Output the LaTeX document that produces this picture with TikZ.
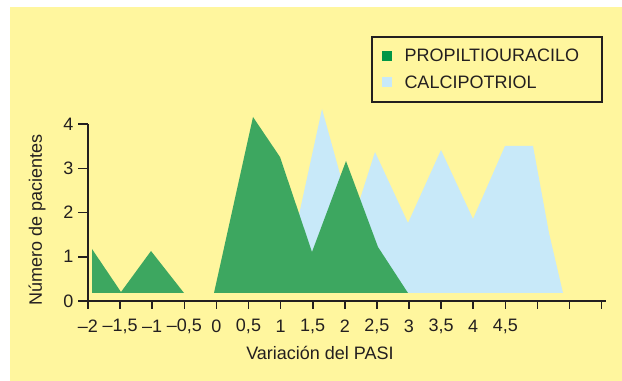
\documentclass[tikz,border=0pt]{standalone}
\usepackage{fontspec}
\setmainfont{Liberation Sans}
\definecolor{bgyellow}{RGB}{255,246,158}
\definecolor{areagreen}{RGB}{61,167,96}
\definecolor{keygreen}{RGB}{0,150,70}
\definecolor{areablue}{RGB}{200,233,249}
\definecolor{inkgray}{RGB}{35,31,32}
\tikzset{every picture/.style={line width=0.75pt}}
\tikzset{every node/.style={font=\fontsize{13.5}{16}\selectfont, text=inkgray}}

\begin{document}
\begin{tikzpicture}[x=0.75pt,y=0.75pt,yscale=-1,xscale=1]
	\useasboundingbox (0,0) rectangle (622,381);
	
	%Shape: Rectangle [id:bg01] 
	\fill [bgyellow] (10,7) rectangle (622,381);
	
	%Shape: Polygon [id:calci01] 
	\fill [areablue] (282,293) -- (322,109) -- (353,221) -- (375,152) -- (408,223) -- (441,150) -- (473,219) -- (505,146) -- (533,146) -- (549,233) -- (563,293) -- cycle ;
	%Shape: Polygon [id:propil01] 
	\fill [areagreen] (92,249) -- (121,292) -- (151,251) -- (184,293) -- (92,293) -- cycle ;
	%Shape: Polygon [id:propil02] 
	\fill [areagreen] (214,293) -- (253,117) -- (280,157) -- (312,252) -- (346,161) -- (378,247) -- (408,293) -- cycle ;
	
	%Shape: Axis 2D [id:axes01] 
	\draw [inkgray, line width=1.2]  (88,124) -- (88,301) -- (606,301) ;
	%Straight Lines [id:xticks] 
	\foreach \tx in {0,...,16}
		\draw [inkgray, line width=1.2]  ({88+\tx*32.1},301) -- ({88+\tx*32.1},309) ;
	%Straight Lines [id:yticks] 
	\foreach \ty in {0,...,4}
		\draw [inkgray, line width=1.2]  (78,{301-\ty*44.2}) -- (88,{301-\ty*44.2}) ;
	
	% Text Node
	\foreach \ty in {0,...,4}
		\draw (75,{301-\ty*44.2}) node [anchor=east][inner sep=0.75pt] (ylab\ty) {\ty};
	% Text Node
	\foreach \tx/\tl in {0/{--2},1/{--1,5},2/{--1},3/{--0,5},4/{0},5/{0,5},6/{1},7/{1,5},8/{2},9/{2,5},10/{3},11/{3,5},12/{4},13/{4,5}}
		\draw ({88+\tx*32.1},326) node [inner sep=0.75pt] (xlab\tx) {\tl};
	% Text Node
	\draw (320,353) node [inner sep=0.75pt] (xtitle) {Variación del PASI};
	% Text Node
	\draw (37,220) node [rotate=90][inner sep=0.75pt] (ytitle) {Número de pacientes};
	
	%Shape: Rectangle [id:key01] 
	\draw [inkgray, line width=1.2]  (372,37) rectangle (602,102) ;
	%Shape: Square [id:key02] 
	\fill [keygreen] (382,51) rectangle (392,61) ;
	%Shape: Square [id:key03] 
	\fill [areablue] (382,77) rectangle (392,87) ;
	% Text Node
	\draw (403,55) node [anchor=west][inner sep=0.75pt] (keyprop) {PROPILTIOURACILO};
	% Text Node
	\draw (403,82) node [anchor=west][inner sep=0.75pt] (keycalc) {CALCIPOTRIOL};
	
\end{tikzpicture}
\end{document}
